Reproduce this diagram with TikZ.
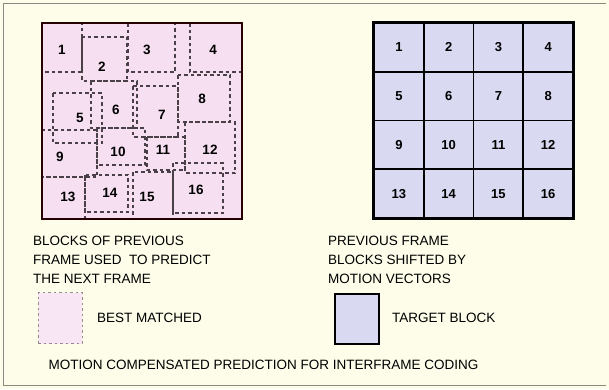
\documentclass[tikz,border=0pt]{standalone}
\usepackage{fontspec}
\setmainfont{Liberation Sans}
\definecolor{bgcream}{HTML}{FDFDEA}
\definecolor{pinkfill}{HTML}{F6DFF1}
\definecolor{pinklight}{HTML}{F9E6F4}
\definecolor{lavfill}{HTML}{D9D9F1}
\definecolor{dashcol}{HTML}{4A4048}
\definecolor{framecol}{HTML}{8A8A80}
\begin{document}
\begin{tikzpicture}[x=1pt,y=-1pt,
  rcell/.style={draw=black, line width=1.7pt, fill=lavfill, minimum width=49.75pt, minimum height=48.75pt, inner sep=0pt, font=\bfseries\fontsize{13}{15}\selectfont},
  dblock/.style={draw=dashcol, line width=1.1pt, dash pattern=on 3.5pt off 3pt},
  num/.style={inner sep=0pt, font=\bfseries\fontsize{13.5}{15}\selectfont},
  captxt/.style={inner sep=0pt, align=left, font=\fontsize{13.5}{19}\selectfont},
]
\useasboundingbox (0,0) rectangle (609,389);
\fill[bgcream] (0,0) rectangle (609,389);
\draw[framecol, line width=0.9pt] (606,3) -- (3,3) -- (3,385) -- (606,385);

% left grid background
\node[fill=pinkfill, minimum width=200pt, minimum height=196pt, inner sep=0pt] (lgrid) at (142,121) {};

% dashed best-matched blocks
\draw[dblock] (42,23) rectangle (82,72);
\draw[dblock] (82,37) rectangle (127,81);
\draw[dblock] (128,23) rectangle (175,72);
\draw[dblock] (190,23) rectangle (242,72);
\draw[dblock] (53,93) rectangle (102,143);
\draw[dblock] (91,81) rectangle (137,128);
\draw[dblock] (133,86) rectangle (178,137);
\draw[dblock] (178,75) rectangle (230,122);
\draw[dblock] (42,130) rectangle (97,177);
\draw[dblock] (97,128) rectangle (145,165);
\draw[dblock] (147,137) rectangle (185,170);
\draw[dblock] (185,122) rectangle (235,173);
\draw[dblock] (42,177) rectangle (85,219);
\draw[dblock] (85,175) rectangle (128,212);
\draw[dblock] (133,172) rectangle (173,219);
\draw[dblock] (173,163) rectangle (223,213);

\draw[line width=2.4pt, black!85!red] (lgrid.north west) rectangle (lgrid.south east);

\node[num] (l1) at (62,50) {1};
\node[num] (l2) at (102,67) {2};
\node[num] (l3) at (147,50) {3};
\node[num] (l4) at (213,50) {4};
\node[num] (l5) at (80,118) {5};
\node[num] (l6) at (116,110) {6};
\node[num] (l7) at (162,115) {7};
\node[num] (l8) at (202,99) {8};
\node[num] (l9) at (60,157) {9};
\node[num] (l10) at (118,152) {10};
\node[num] (l11) at (163,150) {11};
\node[num] (l12) at (210,150) {12};
\node[num] (l13) at (68,197) {13};
\node[num] (l14) at (110,193) {14};
\node[num] (l15) at (147,197) {15};
\node[num] (l16) at (196,190) {16};

% right grid
\foreach \r in {0,...,3}{
  \foreach \c in {0,...,3}{
    \pgfmathtruncatemacro{\n}{\r*4+\c+1}
    \node[rcell] (r\n) at ({374+49.75*(\c+0.5)},{23+48.75*(\r+0.5)}) {\n};
  }
}
\draw[line width=2.4pt] (r1.north west) rectangle (r16.south east);

% captions
\node[captxt, anchor=west] (capl) at (33,260) {BLOCKS OF PREVIOUS\\FRAME USED\ \ TO PREDICT\\THE NEXT FRAME};
\node[captxt, anchor=west] (capr) at (328,260) {PREVIOUS FRAME\\BLOCKS SHIFTED BY\\MOTION VECTORS};

% legend
\node[fill=pinklight, draw=dashcol!60, line width=0.7pt, dash pattern=on 2.5pt off 3pt, minimum width=44pt, minimum height=51pt, inner sep=0pt] (legbest) at (60,318) {};
\node[captxt, anchor=west] (txtbest) at (97,318) {BEST MATCHED};
\node[fill=lavfill, draw=black, line width=1.3pt, minimum width=44pt, minimum height=50pt, inner sep=0pt] (legtarget) at (357,319) {};
\node[captxt, anchor=west] (txttarget) at (392,318) {TARGET BLOCK};

\node[captxt] (title) at (263.5,365) {MOTION COMPENSATED PREDICTION FOR INTERFRAME CODING};
\end{tikzpicture}
\end{document}
